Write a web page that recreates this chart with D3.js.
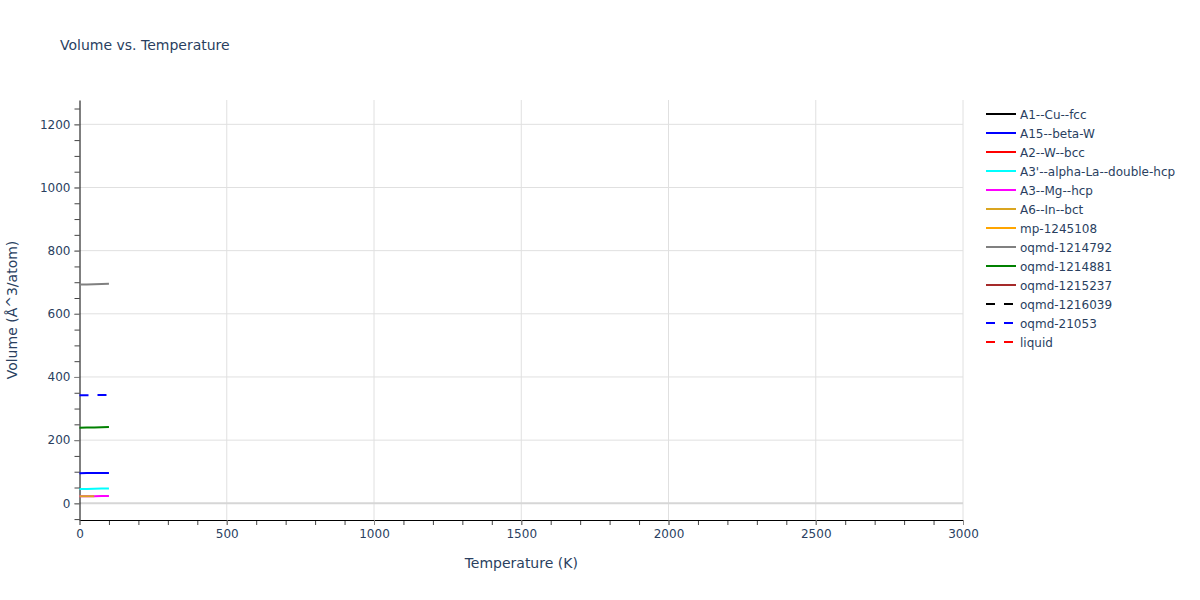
<!DOCTYPE html>
<html>
<head>
<meta charset="utf-8">
<script src="https://cdn.jsdelivr.net/npm/d3@7"></script>
<style>
  body { margin: 0; background: #fff; }
  svg { font-family: "DejaVu Sans", Verdana, sans-serif; }
  .tick text { fill: #2a3f5f; font-size: 12px; font-family: "DejaVu Sans", Verdana, sans-serif; }
</style>
</head>
<body>
<svg id="chart" width="1200" height="600"></svg>
<script>
// temperatures sampled (K)
const temps = [0, 25, 50, 75, 100];

// series names, in legend order
const names = [
    "A1--Cu--fcc", "A15--beta-W", "A2--W--bcc", "A3'--alpha-La--double-hcp",
    "A3--Mg--hcp", "A6--In--bct", "mp-1245108", "oqmd-1214792", "oqmd-1214881",
    "oqmd-1215237", "oqmd-1216039", "oqmd-21053", "liquid"
];
const colors = [
    "black", "blue", "red", "cyan", "magenta", "goldenrod", "orange", "gray",
    "green", "brown", "black", "blue", "red"
];
const dashed = [false, false, false, false, false, false, false, false, false, false, true, true, true];

// volumes (Å^3/atom); series not visible left empty
const volA1 = [];
const volA15 = [95.5, 95.6, 95.8, 96.0, 96.2];
const volA2 = [];
const volA3p = [45.0, 45.4, 46.0, 46.6, 47.2];
const volA3 = [22.5, 22.6, 22.7, 22.8, 23.0];
const volA6 = [22.3, 22.4, 22.6];
const volMp = [];
const volQ1214792 = [692.5, 693.0, 693.6, 694.3, 695.0];
const volQ1214881 = [239.5, 239.8, 240.2, 240.7, 241.2];
const volQ1215237 = [];
const volQ1216039 = [];
const volQ21053 = [342.0, 342.3, 342.6, 343.0, 343.4];
const volLiquid = [];

const volumes = [volA1, volA15, volA2, volA3p, volA3, volA6, volMp,
    volQ1214792, volQ1214881, volQ1215237, volQ1216039, volQ21053, volLiquid];

const xTicks = [0, 500, 1000, 1500, 2000, 2500, 3000];
const yTicks = [0, 200, 400, 600, 800, 1000, 1200];

const svg = d3.select("#chart");
const plotLeft = 79.5, plotRight = 963, plotTop = 100, plotBottom = 520;

const x = d3.scaleLinear().domain([0, 3000]).range([plotLeft, plotRight]);
const y = d3.scaleLinear().domain([-52.9, 1277]).range([plotBottom, plotTop]);

// grid
svg.append("g").selectAll("line").data(xTicks.slice(1)).join("line")
    .attr("x1", d => x(d)).attr("x2", d => x(d))
    .attr("y1", plotTop).attr("y2", plotBottom)
    .attr("stroke", "#e0e0e0").attr("stroke-width", 1);
svg.append("g").selectAll("line").data(yTicks.slice(1)).join("line")
    .attr("x1", plotLeft).attr("x2", plotRight)
    .attr("y1", d => y(d)).attr("y2", d => y(d))
    .attr("stroke", "#e0e0e0").attr("stroke-width", 1);
// zero line
svg.append("line")
    .attr("x1", plotLeft).attr("x2", plotRight)
    .attr("y1", y(0)).attr("y2", y(0))
    .attr("stroke", "#d6d6d6").attr("stroke-width", 2);

// minor ticks
svg.append("g")
    .attr("transform", `translate(0, ${plotBottom})`)
    .call(d3.axisBottom(x).tickValues(d3.range(0, 3001, 100)).tickSize(5).tickFormat(""))
    .call(g => g.select(".domain").remove())
    .call(g => g.selectAll(".tick line").attr("stroke", "#444"));
svg.append("g")
    .attr("transform", `translate(${plotLeft}, 0)`)
    .call(d3.axisLeft(y).tickValues(d3.range(-50, 1276, 50)).tickSize(5).tickFormat(""))
    .call(g => g.select(".domain").remove())
    .call(g => g.selectAll(".tick line").attr("stroke", "#444"));

// main axes
svg.append("g")
    .attr("transform", `translate(0, ${plotBottom})`)
    .call(d3.axisBottom(x).tickValues(xTicks).tickFormat(d3.format("d")).tickSize(5).tickPadding(4).tickSizeOuter(0))
    .call(g => g.select(".domain").attr("stroke", "#000"))
    .call(g => g.selectAll(".tick line").attr("stroke", "#888"));
svg.append("g")
    .attr("transform", `translate(${plotLeft}, 0)`)
    .call(d3.axisLeft(y).tickValues(yTicks).tickFormat(d3.format("d")).tickSize(5).tickPadding(4).tickSizeOuter(0))
    .call(g => g.select(".domain").attr("stroke", "#000"))
    .call(g => g.selectAll(".tick line").attr("stroke", "#888"));

// lines
const line = d3.line().x((d, i) => x(temps[i])).y(d => y(d));
const plot = svg.append("g");
volumes.forEach((vals, i) => {
    if (vals.length === 0) return;
    plot.append("path")
        .datum(vals)
        .attr("d", line)
        .attr("fill", "none")
        .attr("stroke", colors[i])
        .attr("stroke-width", 2)
        .attr("stroke-dasharray", dashed[i] ? "9,9" : null);
});

// titles
svg.append("text")
    .attr("x", 60).attr("y", 50)
    .attr("fill", "#2a3f5f").attr("font-size", 14)
    .text("Volume vs. Temperature");
svg.append("text")
    .attr("x", (plotLeft + plotRight) / 2).attr("y", 568)
    .attr("text-anchor", "middle")
    .attr("fill", "#2a3f5f").attr("font-size", 14)
    .text("Temperature (K)");
svg.append("text")
    .attr("transform", `translate(17, ${(plotTop + plotBottom) / 2}) rotate(-90)`)
    .attr("text-anchor", "middle")
    .attr("fill", "#2a3f5f").attr("font-size", 14)
    .text("Volume (Å^3/atom)");

// legend
const legend = svg.append("g").attr("transform", "translate(986, 114)");
names.forEach((n, i) => {
    const row = legend.append("g").attr("transform", `translate(0, ${i * 19})`);
    row.append("line")
        .attr("x1", 0).attr("x2", 30).attr("y1", 0).attr("y2", 0)
        .attr("stroke", colors[i]).attr("stroke-width", 2)
        .attr("stroke-dasharray", dashed[i] ? "9,9" : null);
    row.append("text")
        .attr("x", 34).attr("y", 4.5)
        .attr("fill", "#2a3f5f").attr("font-size", 12)
        .text(n);
});
</script>
</body>
</html>
